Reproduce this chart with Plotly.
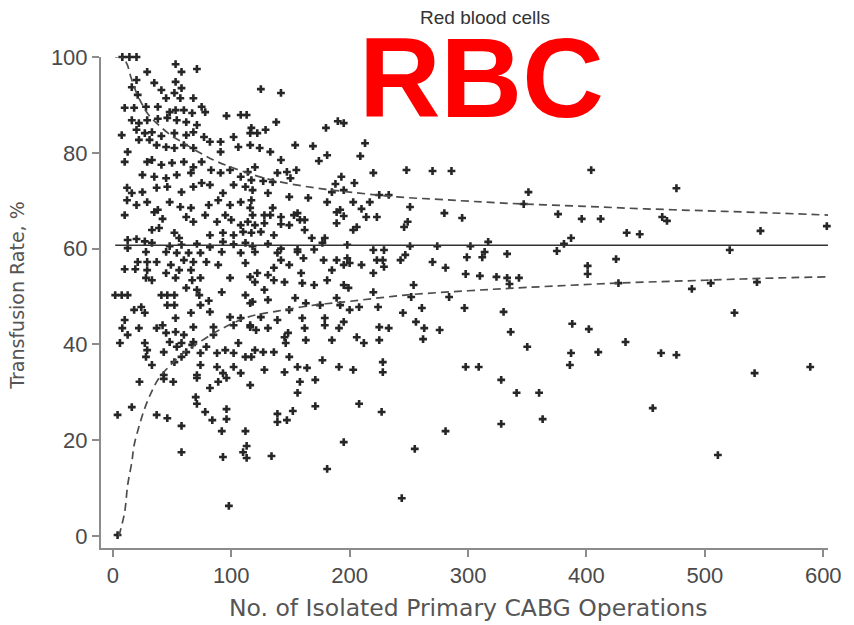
import plotly.graph_objects as go

# Hospitals with low CABG volume (< ~120 operations): (operations, transfusion rate %)
low_volume = [
    (8, 100), (14, 100), (20, 100),
    (53, 98.5), (29, 96.9), (71, 97.5), (58, 96.9), (20, 95.2), (16, 93.7), (35, 94.6), (53, 94.8),
    (41, 93.1), (58, 93.5), (21, 92.1), (45, 91.4), (52, 92.5), (57, 91.4), (68, 91.4), (10, 89.4),
    (18, 89.4), (28, 89.6), (38, 89.6), (48, 88.5), (53, 88.9), (60, 88.9), (67, 88.3), (75, 89.6),
    (78, 88.5), (96, 87.7), (108, 87.9), (113, 87.9), (16, 86.8), (22, 86.2), (29, 86.8), (38, 87.1),
    (46, 87.3), (54, 86.8), (62, 86.4), (71, 85.8), (7.5, 83.7), (20, 84.8), (27, 84.1), (33, 84.3),
    (41, 83.5), (52, 84.1), (62, 83.7), (68, 84.3), (77, 83.3), (82, 82.3), (91, 82.3), (102, 83.3),
    (116, 84.1), (22, 82.7), (31, 82.7), (37, 81.6), (45, 81.2), (52, 81), (60, 81.6), (68, 81),
    (91, 80.2), (106, 81.2), (12.5, 80.2), (10, 78.1), (29, 78.1), (33, 78.5), (41, 77.5), (50, 77.9),
    (60, 78.1), (68, 77), (75, 78.1), (83, 76.4), (91, 75.8), (99, 76.4), (108, 75), (114, 76),
    (25, 75.4), (35, 75), (45, 74.7), (54, 75.4), (66, 75.8), (12, 72.7), (16, 71.6), (25, 71.8),
    (37, 72.7), (46, 72.9), (58, 71.8), (68, 72.9), (75, 73.7), (82, 73.3), (93, 71.6), (102, 73.3),
    (112, 72.9), (12, 70.1), (20, 69.1), (29, 69.7), (38, 68.1), (48, 69.7), (57, 68.7), (66, 68.5),
    (81, 69.1), (89, 70.1), (99, 69.1), (108, 69.7), (116, 68.5),
    (10, 67), (35, 67.6), (42, 66.2), (39, 64.3), (33, 63.9), (52, 63.3), (56, 62.2), (68, 65.6),
    (78, 67), (88, 65.6), (95, 67), (100, 66), (108, 64.9), (114, 65.6), (82, 62.8), (93, 63.3),
    (102, 62.8), (110, 63.5), (62, 66.6),
    (12.5, 61.8), (20, 62), (27, 61.5), (33, 61.2), (48, 60.5), (58, 60.8), (71, 61), (82, 60.3),
    (93, 61.4), (102, 60.9), (112, 61.2),
    (12.5, 60.1), (28, 59.3), (45, 59.3), (54, 59.1), (64, 59.1), (74, 59.1), (92, 59.3), (108, 59.1),
    (21, 57.2), (29, 57.2), (37, 57.2), (60, 57.6), (68, 57.2), (79, 57.2), (89, 56.6), (112, 57),
    (10, 55.7), (19, 55.7), (29, 55.5), (49, 56.6), (56, 55.5), (66, 55.5), (45, 54.9), (53, 53.9),
    (28, 53.9), (33, 53.4), (67, 53.4), (74, 53.9), (99, 53.9), (116, 54.1), (92, 50.9), (71, 51.4),
    (62, 51.8), (73, 50.3), (2, 50.3), (7.5, 50.3), (12.5, 50.3), (41, 50.3), (46, 50.3), (52, 50.3),
    (81, 49.1), (112, 50.3), (116, 48.6), (24, 47.8), (18, 47.2), (46, 48.2), (52, 48.2), (74, 48.2),
    (27, 46.6), (66, 46.6), (82, 46.8), (99, 45.7), (108, 45.5), (53, 45.5), (10, 45.1), (8, 43.4),
    (22, 43.4), (37, 43.4), (42, 44), (68, 43.6), (85, 43.6), (102, 44), (116, 43.6), (12.5, 42),
    (45, 42.4), (53, 42.6), (60, 42), (85, 42), (6, 40.3), (27, 40.3), (48, 40.5), (58, 40.3),
    (68, 40.5), (79, 39.5), (95, 38.8), (106, 40.3), (29, 38.8), (54, 39.5), (43, 38.4), (62, 38.4),
    (67, 39.9), (28, 37.4), (58, 37.4), (74, 38.2), (88, 38.2), (102, 38.2), (112, 37.4), (33, 35.7),
    (52, 36.3), (74, 35.7), (88, 35.3), (102, 35.3), (43, 33.6), (71, 33.6), (93, 34), (108, 34),
    (22.5, 32.2), (43, 32.8), (51, 32.2), (71, 33), (82, 30.9), (89, 32.2), (96, 33), (116, 31.5),
    (16, 26.9), (4, 25.3), (37, 25.3), (46, 24.6), (58, 23), (70, 29), (71, 27.6), (78, 25.9),
    (96, 26.5), (84, 24.2), (96, 24.4), (92, 21.9), (112, 21.9), (113, 18.8), (110, 17.5), (113, 16.3),
    (58, 17.5), (93, 16.5), (98, 6.3), (4, 0.2),
]

# Hospitals with medium volume (~115-245 operations)
mid_volume = [
    (125, 93.3), (142, 92.5), (138, 86.4), (180, 85.2), (190, 86.6), (195, 86.2), (117, 85.2),
    (122, 84.1), (129, 84.8), (154, 81.6), (169, 81.4), (181, 79.5), (174, 78.3), (213, 82),
    (209, 79.3), (116, 81.6), (124, 81), (133, 80.2), (142, 78.5), (120, 77), (155, 76.4), (147, 76),
    (139, 75.8), (220, 75.8), (117, 74.3), (127, 74.1), (135, 73.9), (150, 74.7), (193, 75),
    (204, 73.7), (188, 73.5), (118, 72.2), (131, 71.6), (149, 70.8), (165, 70.6), (181, 69.7),
    (185, 71.8), (195, 72.2), (203, 69.7), (217, 69.7), (225, 71.2), (233, 71.2), (117, 70.1),
    (135, 68.5), (156, 67.4), (192, 68.1), (210, 68.3),
    (118, 67), (128, 67), (133, 67), (142, 66.6), (153, 67), (158, 66), (162, 66), (189, 67.6),
    (195, 66.8), (214, 66.6), (223, 66.6), (120, 64.9), (128, 65.3), (142, 65.1), (149, 64.9),
    (189, 65.3), (206, 64.5), (203, 63.9), (117, 63.3), (125, 63.5), (136, 62.8), (162, 63.9),
    (168, 62.2), (179, 62.2), (177, 61.2),
    (118, 60.5), (131, 61), (142, 60), (156, 59.8), (170, 59.8), (198, 60.8), (220, 59.7), (229, 59.7),
    (120, 59.3), (139, 59.1), (156, 59.3), (161, 58), (178, 57.6), (189, 57.6), (198, 58), (223, 57.6),
    (228, 57.6), (243, 57.6), (142, 57.6), (136, 56), (149, 56.6), (185, 55.5), (195, 56.6), (200, 57),
    (210, 56.6), (229, 56.2), (220, 54.9), (122, 54.9), (131, 54.5), (159, 54.9), (181, 53.4),
    (120, 53), (136, 53.4), (145, 53), (160, 52.8), (170, 52.4), (195, 52.4), (199, 51.8), (220, 50.9),
    (128, 51.4), (131, 49.3), (118, 48.9), (154, 49.7), (163, 48.6), (175, 48.2), (189, 49.7),
    (192, 48.2), (200, 47.2), (208, 47.8), (224, 47.8), (125, 45.7), (139, 45.1), (149, 47.2),
    (160, 45.5), (179, 45.5), (195, 44.7), (116, 44), (121, 43), (131, 43.4), (148, 42.4), (162, 43.4),
    (179, 44), (191, 43.4), (206, 41.5), (225, 43.6), (233, 43.4), (145, 41.5), (163, 40.9),
    (185, 40.9), (212, 40.3), (225, 40.9), (146, 40.3), (120, 38.8), (127, 38.4), (136, 38.4),
    (149, 37.4), (177, 36.7), (228, 36.3), (117, 37.4), (156, 35.3), (164, 35.1), (191, 35.3),
    (203, 34.7), (228, 34.2), (128, 34.7), (145, 34.2),
    (158, 32.2), (171, 32.6), (156, 29.9), (171, 27.1), (208, 27.6), (227, 25.9), (139, 25.5),
    (139, 23.8), (147, 24.2), (152, 26.1), (134, 16.7), (195, 19.6), (181, 14),
]

# Hospitals with high volume (> ~245 operations)
high_volume = [
    (248, 76.4), (270, 76.2), (286, 76.2), (404, 76.4), (351, 71.8), (251, 68.7), (347, 69.3),
    (280, 67.4), (295, 66.4), (376, 67.2), (396, 66.2), (412, 66.2), (249, 65.6), (246, 64.5),
    (251, 60.5), (274, 60.5), (302, 60.5), (317, 61.4), (387, 62.2), (381, 61), (247, 58.7),
    (270, 57.2), (299, 58.2), (312, 58.2), (314, 59.3), (333, 58.9), (375, 59.5), (425, 57.8),
    (281, 56), (401, 56.4), (401, 54.7), (298, 54.7), (310, 54.3), (324, 54.1), (333, 53.9),
    (343, 53.9), (335, 52.6), (254, 52.4), (252, 49.9), (284, 49.9), (245, 46.6), (261, 47.6),
    (297, 47.6), (330, 46.8), (256, 44.7), (263, 43.4), (276, 43), (262, 41.1), (388, 44.3),
    (402, 43.2), (336, 42.6), (350, 39.5), (387, 38.2), (410, 38.4), (386, 35.7), (298, 35.3),
    (309, 35.3), (328, 32.6), (341, 29.9), (360, 29.9), (328, 23.4), (363, 24.4), (281, 21.9),
    (255, 18.2), (244, 7.9),
    (476, 72.6), (464, 66.6), (468, 65.8), (434, 63.3), (445, 63), (547, 63.7), (603, 64.7),
    (521, 59.7), (427, 52.8), (505, 52.8), (544, 53), (489, 51.6), (525, 46.6), (433, 40.5),
    (463, 38.2), (476, 37.8), (542, 34), (589, 35.3), (456, 26.7), (511, 16.9),
]

# Overall transfusion rate and funnel control limits
overall_rate = 60.7
line_span = [2, 604]
upper_n = [2, 8, 12, 15, 20, 25, 30, 40, 50, 60, 70, 85, 100, 120, 140, 170, 200, 240, 280, 330,
           400, 450, 500, 550, 604]
upper_limit = [100, 100, 98.5, 96, 92.5, 90, 88, 85.5, 83.5, 82, 80.5, 78.5, 77, 75.3, 74, 72.7,
               71.8, 70.8, 70.2, 69.5, 68.8, 68.3, 67.9, 67.5, 67.0]
lower_n = [5, 6, 10, 12.5, 16, 18, 22.5, 27, 32.5, 39, 50, 60, 72, 90, 114, 140, 170, 200, 247, 300,
           350, 427, 500, 550, 604]
lower_limit = [0, 0.8, 5, 10.6, 15.4, 19, 23.2, 26.7, 30, 33, 36, 38.3, 40.3, 43, 45.7, 47, 48.2,
               49, 50.3, 51.2, 51.9, 52.8, 53.4, 53.8, 54.1]

x_ticks = [0, 100, 200, 300, 400, 500, 600]
y_ticks = [0, 20, 40, 60, 80, 100]

points = low_volume + mid_volume + high_volume
ops = [p[0] for p in points]
rate = [p[1] for p in points]

fig = go.Figure()

fig.add_trace(go.Scatter(
    x=ops, y=rate, mode="markers",
    marker=dict(symbol="cross", size=6.5, color="#262626", line=dict(width=0)),
    cliponaxis=False, showlegend=False, hoverinfo="skip",
))

fig.add_trace(go.Scatter(
    x=line_span, y=[overall_rate, overall_rate], mode="lines",
    line=dict(color="#333333", width=1.6), showlegend=False,
))

for xs, ys in ((upper_n, upper_limit), (lower_n, lower_limit)):
    fig.add_trace(go.Scatter(
        x=xs, y=ys, mode="lines", line_shape="spline",
        line=dict(color="#4d4d4d", width=1.7, dash="8px,5px"),
        showlegend=False, cliponaxis=False,
    ))

sans = "Liberation Sans, Arial, sans-serif"
tick_font = dict(family=sans, size=22, color="#4a4a4a")

fig.update_xaxes(
    range=[-10, 604], tickvals=x_ticks, showgrid=False, zeroline=False,
    showline=True, linecolor="#8c8c8c", linewidth=2,
    ticks="outside", ticklen=7, tickwidth=1.5, tickcolor="#8c8c8c",
    tickfont=tick_font,
)
fig.update_yaxes(
    range=[-2.5, 100], tickvals=y_ticks, showgrid=False, zeroline=False,
    showline=True, linecolor="#8c8c8c", linewidth=2,
    ticks="outside", ticklen=7, tickwidth=1.5, tickcolor="#8c8c8c",
    tickfont=tick_font,
)

fig.update_layout(
    width=854, height=625,
    margin=dict(l=101, r=16, t=57, b=77),
    plot_bgcolor="white", paper_bgcolor="white",
    annotations=[
        dict(text="Red blood cells", xref="paper", yref="paper", x=0.528, y=1.08,
             showarrow=False, xanchor="center", yanchor="middle",
             font=dict(family=sans, size=19, color="#333333")),
        dict(text="<b>RBC</b>", xref="paper", yref="paper", x=0.5237, y=0.958,
             showarrow=False, xanchor="center", yanchor="middle",
             font=dict(family=sans, size=113, color="#ff0000")),
        dict(text="Transfusion Rate, %", xref="paper", yref="paper", x=-0.116, y=0.515,
             showarrow=False, xanchor="center", yanchor="middle", textangle=-90,
             font=dict(family="DejaVu Sans, sans-serif", size=19, color="#555555")),
        dict(text="No. of Isolated Primary CABG Operations", xref="paper", yref="paper",
             x=0.505, y=-0.122, showarrow=False, xanchor="center", yanchor="middle",
             font=dict(family="DejaVu Sans, sans-serif", size=23.5, color="#555555")),
    ],
)

fig.write_html("out.html")
